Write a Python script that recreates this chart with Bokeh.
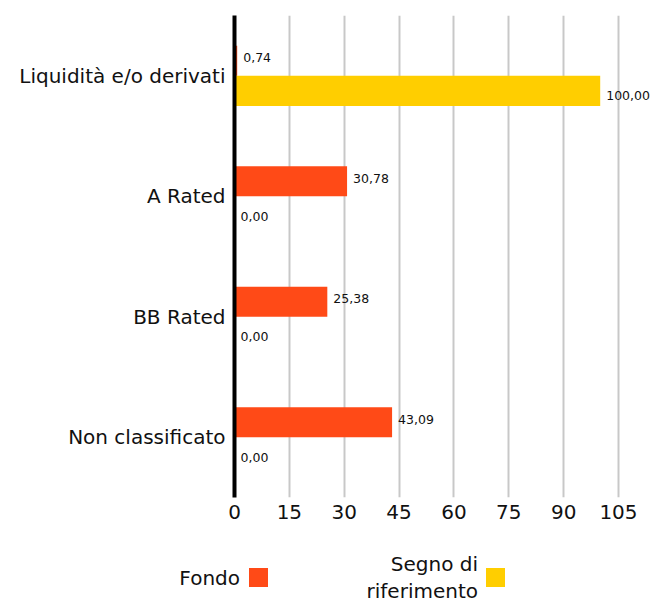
from bokeh.plotting import figure
from bokeh.models import ColumnDataSource, FactorRange, Range1d, FixedTicker, Div
from bokeh.transform import dodge
from bokeh.layouts import column
from bokeh.embed import file_html
from bokeh.resources import INLINE
from bokeh.core.properties import value

categories = ["Liquidità e/o derivati", "A Rated", "BB Rated", "Non classificato"]
fondo = [0.74, 30.78, 25.38, 43.09]
benchmark = [100.00, 0.00, 0.00, 0.00]
x_ticks = [0, 15, 30, 45, 60, 75, 90, 105]
series_names = ["Fondo", "Segno di riferimento"]

RED = "#FF4A17"
YELLOW = "#FFCE00"
FONT = "DejaVu Sans"

def fmt(v):
    return f"{v:.2f}".replace(".", ",")

src = ColumnDataSource(dict(
    cat=categories,
    fondo=fondo,
    bench=benchmark,
    fondo_lbl=[fmt(v) for v in fondo],
    bench_lbl=[fmt(v) for v in benchmark],
))

p = figure(
    y_range=FactorRange(*reversed(categories)),
    x_range=Range1d(0, 114.3),
    frame_width=418, frame_height=482,
    min_border_left=234, min_border_top=15, min_border_right=2, min_border_bottom=40,
    output_backend="svg", toolbar_location=None,
)
p.outline_line_color = None
p.background_fill_color = "white"

p.hbar(y=dodge("cat", 0.125, range=p.y_range), right="fondo", left=0, height=0.25,
       source=src, color=RED, line_color=None)
p.hbar(y=dodge("cat", -0.125, range=p.y_range), right="bench", left=0, height=0.25,
       source=src, color=YELLOW, line_color=None)

p.text(x="fondo", y=dodge("cat", 0.125, range=p.y_range), text="fondo_lbl", source=src,
       x_offset=6, y_offset=-3, text_baseline="middle", text_align="left",
       text_font=value(FONT), text_font_size="12.5px", text_color="#111111")
p.text(x="bench", y=dodge("cat", -0.125, range=p.y_range), text="bench_lbl", source=src,
       x_offset=6, y_offset=5, text_baseline="middle", text_align="left",
       text_font=value(FONT), text_font_size="12.5px", text_color="#111111")

# axes
p.xaxis.ticker = FixedTicker(ticks=x_ticks)
p.xaxis.axis_line_color = None
p.xaxis.major_tick_line_color = None
p.xaxis.minor_tick_line_color = None
p.xaxis.major_label_text_font = FONT
p.xaxis.major_label_text_font_size = "20px"
p.xaxis.major_label_text_color = "#111111"
p.xaxis.major_label_standoff = 1

p.yaxis.axis_line_color = "black"
p.yaxis.axis_line_width = 4
p.yaxis.major_tick_line_color = None
p.yaxis.minor_tick_line_color = None
p.yaxis.major_label_text_font = FONT
p.yaxis.major_label_text_font_size = "20px"
p.yaxis.major_label_text_color = "#111111"
p.yaxis.major_label_standoff = 3

p.ygrid.grid_line_color = None
p.xgrid.grid_line_color = "#C8C8C8"
p.xgrid.grid_line_width = 2

legend_html = f"""
<div style="position:relative;width:650px;height:66px;font-family:'{FONT}';font-size:20px;color:#111111;margin:0;padding:0;">
  <div style="position:absolute;right:410px;top:28px;line-height:26px;text-align:right;white-space:nowrap;">{series_names[0]}</div>
  <div style="position:absolute;left:249px;top:31px;width:19px;height:19px;background:{RED};"></div>
  <div style="position:absolute;right:172px;top:14px;line-height:27px;text-align:right;white-space:nowrap;">Segno di<br>riferimento</div>
  <div style="position:absolute;left:486px;top:31px;width:19px;height:19px;background:{YELLOW};"></div>
</div>
"""
legend = Div(text=legend_html, width=650, height=66, margin=0)

layout = column(p, legend, spacing=0)
open("out.html", "w").write(file_html(layout, INLINE))
